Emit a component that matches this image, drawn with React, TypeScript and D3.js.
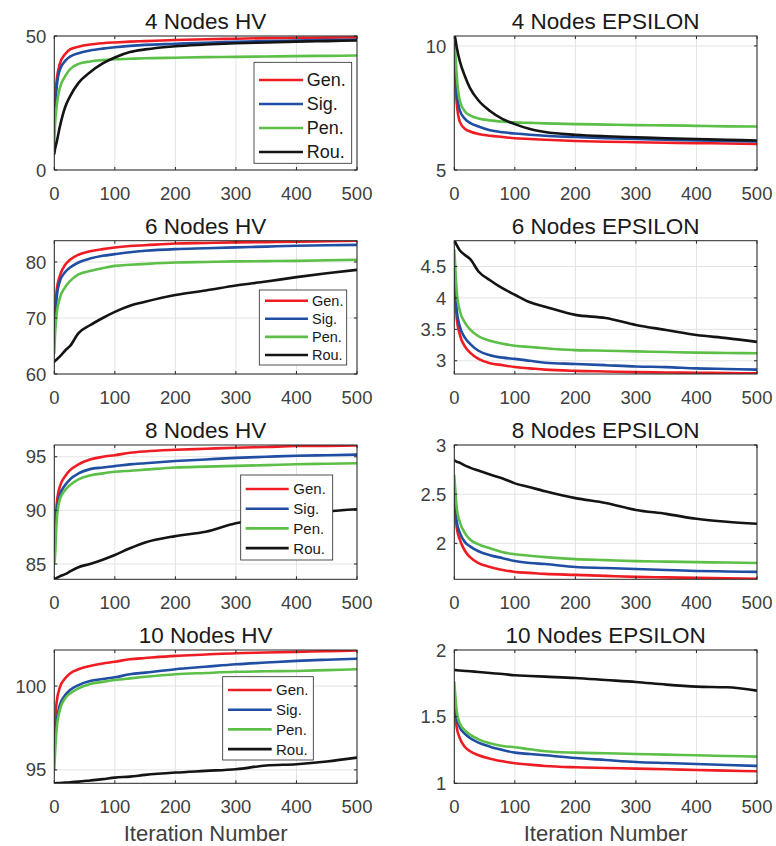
import React from "react";
import * as d3 from "d3";

// ---------- DATA ----------
const ITERATIONS = [0, 1, 4, 9, 18, 26, 40, 59, 80, 100, 125, 150, 200, 250, 300, 350, 400, 450, 500];
const SERIES_NAMES = ["Gen.", "Sig.", "Pen.", "Rou."];
const X_TICKS = [0, 100, 200, 300, 400, 500];

// 4 Nodes HV
const HV4_GEN = [16, 25, 33.6, 39.5, 43.3, 45, 46, 46.8, 47.3, 47.6, 47.9, 48.1, 48.5, 48.8, 49, 49.2, 49.3, 49.4, 49.5];
const HV4_SIG = [14, 21, 31, 37.3, 40.7, 42.3, 43.6, 44.6, 45.3, 45.8, 46.3, 46.7, 47.1, 47.5, 47.8, 48.1, 48.3, 48.5, 48.6];
const HV4_PEN = [10, 16, 24, 30.5, 35, 37.6, 39.6, 40.5, 41, 41.3, 41.5, 41.7, 41.9, 42.1, 42.2, 42.35, 42.5, 42.6, 42.7];
const HV4_ROU = [6, 7.5, 10.5, 16, 23.5, 27.5, 32.5, 36.5, 39.8, 42, 44, 45, 46.2, 46.8, 47.3, 47.6, 47.9, 48.1, 48.3];

// 4 Nodes EPSILON
const EP4_GEN = [9.2, 8.9, 7.7, 6.95, 6.65, 6.55, 6.45, 6.38, 6.33, 6.28, 6.25, 6.22, 6.17, 6.14, 6.12, 6.1, 6.08, 6.07, 6.05];
const EP4_SIG = [9.6, 9.4, 8.2, 7.4, 7.05, 6.9, 6.75, 6.6, 6.52, 6.47, 6.42, 6.38, 6.33, 6.28, 6.25, 6.22, 6.19, 6.17, 6.15];
const EP4_PEN = [10.1, 9.97, 8.8, 7.8, 7.35, 7.2, 7.08, 7.0, 6.95, 6.92, 6.9, 6.88, 6.85, 6.83, 6.81, 6.8, 6.78, 6.76, 6.75];
const EP4_ROU = [10.4, 10.37, 9.95, 9.4, 8.75, 8.3, 7.8, 7.38, 7.05, 6.85, 6.65, 6.53, 6.42, 6.36, 6.32, 6.28, 6.25, 6.22, 6.19];

// 6 Nodes HV
const HV6_GEN = [66, 70, 75, 77.5, 79.5, 80.4, 81.3, 81.9, 82.3, 82.6, 82.85, 83, 83.3, 83.4, 83.5, 83.55, 83.6, 83.7, 83.8];
const HV6_SIG = [66, 69, 73.8, 76.5, 78.2, 79, 79.9, 80.6, 81.1, 81.4, 81.75, 82, 82.3, 82.45, 82.6, 82.75, 82.9, 83, 83.05];
const HV6_PEN = [63.7, 66.5, 70.8, 73.5, 75.5, 76.6, 77.8, 78.4, 78.9, 79.3, 79.5, 79.65, 79.9, 80.0, 80.1, 80.15, 80.2, 80.3, 80.4];
const HV6_ROU = [62.2, 62.3, 62.6, 63.1, 64.2, 65, 67.3, 68.7, 70.0, 71.1, 72.2, 72.9, 74.1, 74.9, 75.8, 76.5, 77.3, 78, 78.6];

// 6 Nodes EPSILON
const EP6_GEN = [4.5, 4.2, 3.68, 3.42, 3.22, 3.13, 3.03, 2.96, 2.93, 2.9, 2.88, 2.86, 2.84, 2.83, 2.82, 2.815, 2.81, 2.805, 2.8];
const EP6_SIG = [4.45, 4.2, 3.8, 3.55, 3.36, 3.27, 3.16, 3.09, 3.05, 3.03, 3.0, 2.97, 2.95, 2.93, 2.91, 2.9, 2.88, 2.87, 2.86];
const EP6_PEN = [4.76, 4.6, 4.1, 3.8, 3.6, 3.5, 3.39, 3.32, 3.27, 3.24, 3.22, 3.2, 3.17, 3.16, 3.15, 3.14, 3.13, 3.125, 3.12];
const EP6_ROU = [4.92, 4.9, 4.84, 4.76, 4.68, 4.62, 4.42, 4.28, 4.15, 4.05, 3.93, 3.86, 3.73, 3.68, 3.57, 3.49, 3.41, 3.36, 3.3];

// 8 Nodes HV
const HV8_GEN = [86.3, 87.2, 90.6, 92.2, 93.2, 93.75, 94.3, 94.75, 95.0, 95.15, 95.37, 95.5, 95.65, 95.75, 95.85, 95.92, 96.0, 96.02, 96.05];
const HV8_SIG = [86.3, 87.2, 90.0, 91.4, 92.36, 92.9, 93.45, 93.85, 94.0, 94.13, 94.29, 94.4, 94.6, 94.75, 94.9, 95.0, 95.1, 95.15, 95.2];
const HV8_PEN = [85.05, 85.5, 89.1, 91.0, 91.9, 92.36, 92.9, 93.26, 93.45, 93.6, 93.7, 93.8, 94.0, 94.08, 94.15, 94.22, 94.3, 94.35, 94.4];
const HV8_ROU = [83.57, 83.6, 83.7, 83.85, 84.05, 84.3, 84.7, 85.0, 85.4, 85.84, 86.46, 87.0, 87.6, 88.0, 88.8, 89.2, 89.6, 89.9, 90.1];

// 8 Nodes EPSILON
const EP8_GEN = [2.54, 2.4, 2.16, 2.04, 1.92, 1.86, 1.8, 1.76, 1.73, 1.71, 1.7, 1.69, 1.68, 1.67, 1.66, 1.655, 1.65, 1.645, 1.64];
const EP8_SIG = [2.57, 2.45, 2.22, 2.11, 2.01, 1.97, 1.92, 1.88, 1.85, 1.82, 1.8, 1.79, 1.76, 1.75, 1.74, 1.73, 1.72, 1.715, 1.71];
const EP8_PEN = [2.69, 2.6, 2.36, 2.22, 2.1, 2.04, 1.99, 1.95, 1.91, 1.89, 1.875, 1.86, 1.84, 1.83, 1.82, 1.815, 1.81, 1.805, 1.8];
const EP8_ROU = [2.845, 2.84, 2.83, 2.82, 2.79, 2.77, 2.74, 2.7, 2.66, 2.61, 2.57, 2.53, 2.46, 2.41, 2.34, 2.3, 2.25, 2.22, 2.2];

// 10 Nodes HV
const HV10_GEN = [96.2, 97.5, 99.07, 99.9, 100.46, 100.75, 101.0, 101.2, 101.35, 101.45, 101.6, 101.67, 101.8, 101.88, 101.96, 102.0, 102.04, 102.08, 102.12];
const HV10_SIG = [96, 96.7, 97.9, 98.85, 99.46, 99.76, 100.06, 100.3, 100.42, 100.52, 100.7, 100.8, 101.0, 101.15, 101.3, 101.4, 101.5, 101.57, 101.63];
const HV10_PEN = [95, 95.8, 97.5, 98.55, 99.27, 99.56, 99.86, 100.12, 100.25, 100.36, 100.46, 100.55, 100.7, 100.78, 100.85, 100.88, 100.9, 100.95, 101.0];
const HV10_ROU = [94.2, 94.2, 94.21, 94.22, 94.24, 94.26, 94.3, 94.37, 94.45, 94.54, 94.6, 94.7, 94.84, 94.94, 95.04, 95.26, 95.34, 95.5, 95.73];

// 10 Nodes EPSILON
const EP10_GEN = [1.65, 1.55, 1.42, 1.34, 1.27, 1.24, 1.21, 1.185, 1.165, 1.15, 1.14, 1.13, 1.12, 1.115, 1.11, 1.105, 1.1, 1.095, 1.09];
const EP10_SIG = [1.675, 1.6, 1.49, 1.42, 1.37, 1.34, 1.305, 1.275, 1.25, 1.23, 1.22, 1.21, 1.19, 1.175, 1.16, 1.152, 1.145, 1.137, 1.13];
const EP10_PEN = [1.76, 1.7, 1.54, 1.45, 1.395, 1.365, 1.33, 1.3, 1.28, 1.27, 1.255, 1.24, 1.23, 1.225, 1.22, 1.215, 1.21, 1.205, 1.2];
const EP10_ROU = [1.85, 1.85, 1.848, 1.846, 1.843, 1.84, 1.835, 1.827, 1.82, 1.81, 1.805, 1.8, 1.79, 1.775, 1.76, 1.74, 1.725, 1.72, 1.695];

const TITLES = [
  "4 Nodes HV", "4 Nodes EPSILON",
  "6 Nodes HV", "6 Nodes EPSILON",
  "8 Nodes HV", "8 Nodes EPSILON",
  "10 Nodes HV", "10 Nodes EPSILON",
];
const Y_TICKS = [
  [0, 50], [5, 10],
  [60, 70, 80], [3, 3.5, 4, 4.5],
  [85, 90, 95], [2, 2.5, 3],
  [95, 100], [1, 1.5, 2],
];
const Y_DOMAINS = [
  [0, 50], [5, 10.4],
  [60, 83.8], [2.79, 4.91],
  [83.57, 96.1], [1.635, 3],
  [94.2, 102.15], [1, 2],
];
const PANEL_SERIES = [
  [HV4_GEN, HV4_SIG, HV4_PEN, HV4_ROU],
  [EP4_GEN, EP4_SIG, EP4_PEN, EP4_ROU],
  [HV6_GEN, HV6_SIG, HV6_PEN, HV6_ROU],
  [EP6_GEN, EP6_SIG, EP6_PEN, EP6_ROU],
  [HV8_GEN, HV8_SIG, HV8_PEN, HV8_ROU],
  [EP8_GEN, EP8_SIG, EP8_PEN, EP8_ROU],
  [HV10_GEN, HV10_SIG, HV10_PEN, HV10_ROU],
  [EP10_GEN, EP10_SIG, EP10_PEN, EP10_ROU],
];

// ---------- STYLE / LAYOUT ----------
const COLORS = ["#ef1c24", "#1f4ea3", "#5cbf47", "#141414"];
const FONT = "'Liberation Sans', Arial, Helvetica, sans-serif";
const COLS = [[54.3, 357], [454.3, 757]];
const ROWS = [[36, 170], [240.7, 374], [445, 579.3], [650, 783.3]];
// legend boxes for the HV panels: [x, y, w, h, fontSize, firstRowY, rowStep, lineX0, lineX1, textX]
const LEGENDS = [
  [254, 62.3, 97.7, 101, 18, 80, 24, 259, 303, 306.7],
  [259.3, 290, 87.4, 75, 14.5, 300.7, 18.1, 265, 308, 312],
  [240.7, 475, 92, 85, 15, 489, 19.7, 245.7, 288.7, 293.3],
  [222.7, 676.7, 90.6, 83.3, 15, 690, 19.7, 228, 271.7, 276],
];

function Panel({ idx }: { idx: number }) {
  const col = idx % 2;
  const row = Math.floor(idx / 2);
  const [x0, x1] = COLS[col];
  const [y0, y1] = ROWS[row];
  const x = d3.scaleLinear().domain([0, 500]).range([x0, x1]);
  const y = d3.scaleLinear().domain(Y_DOMAINS[idx]).range([y1, y0]);
  const line = d3
    .line<number>()
    .x((_, i) => x(ITERATIONS[i]))
    .y((v) => y(v))
    .curve(d3.curveMonotoneX);
  const clipId = `clip-${idx}`;
  const yt = Y_TICKS[idx];
  const tl = 3;
  const fmt = (v: number) => (Number.isInteger(v) ? String(v) : v.toFixed(1));
  return (
    <g>
      <defs>
        <clipPath id={clipId}>
          <rect x={x0} y={y0} width={x1 - x0} height={y1 - y0} />
        </clipPath>
      </defs>
      <rect x={x0} y={y0} width={x1 - x0} height={y1 - y0} fill="#fff" />
      {X_TICKS.map((t) => (
        <line key={"gx" + t} x1={x(t)} x2={x(t)} y1={y0} y2={y1} stroke="#e3e3e3" strokeWidth={1} />
      ))}
      {yt.map((t) => (
        <line key={"gy" + t} x1={x0} x2={x1} y1={y(t)} y2={y(t)} stroke="#e3e3e3" strokeWidth={1} />
      ))}
      <g clipPath={`url(#${clipId})`}>
        {PANEL_SERIES[idx].map((s, i) => (
          <path key={i} d={line(s) || ""} fill="none" stroke={COLORS[i]} strokeWidth={2.6} strokeLinejoin="round" strokeLinecap="round" />
        ))}
      </g>
      <rect x={x0} y={y0} width={x1 - x0} height={y1 - y0} fill="none" stroke="#262626" strokeWidth={1} />
      {X_TICKS.map((t) => (
        <g key={"tx" + t}>
          <line x1={x(t)} x2={x(t)} y1={y1} y2={y1 - tl} stroke="#262626" />
          <line x1={x(t)} x2={x(t)} y1={y0} y2={y0 + tl} stroke="#262626" />
          <text x={x(t)} y={y1 + 29.5} textAnchor="middle" fontSize={18.5} fill="#404040" fontFamily={FONT}>
            {t}
          </text>
        </g>
      ))}
      {yt.map((t) => (
        <g key={"ty" + t}>
          <line x1={x0} x2={x0 + tl} y1={y(t)} y2={y(t)} stroke="#262626" />
          <line x1={x1} x2={x1 - tl} y1={y(t)} y2={y(t)} stroke="#262626" />
          <text x={x0 - 8} y={y(t) + 6.6} textAnchor="end" fontSize={18.5} fill="#404040" fontFamily={FONT}>
            {fmt(t)}
          </text>
        </g>
      ))}
      <text x={(x0 + x1) / 2} y={y0 - 7} textAnchor="middle" fontSize={22.5} fill="#1a1a1a" fontFamily={FONT}>
        {TITLES[idx]}
      </text>
      {row === 3 && (
        <text x={(x0 + x1) / 2} y={841} textAnchor="middle" fontSize={22} fill="#404040" fontFamily={FONT}>
          Iteration Number
        </text>
      )}
      {col === 0 && <Legend row={row} />}
    </g>
  );
}

function Legend({ row }: { row: number }) {
  const [bx, by, bw, bh, fs, fy, step, lx0, lx1, tx] = LEGENDS[row];
  return (
    <g>
      <rect x={bx} y={by} width={bw} height={bh} fill="#fff" stroke="#262626" strokeWidth={0.8} />
      {SERIES_NAMES.map((n, i) => (
        <g key={n}>
          <line x1={lx0} x2={lx1} y1={fy + i * step} y2={fy + i * step} stroke={COLORS[i]} strokeWidth={2.6} />
          <text x={tx} y={fy + i * step + fs * 0.36} fontSize={fs} fill="#1a1a1a" fontFamily={FONT}>
            {n}
          </text>
        </g>
      ))}
    </g>
  );
}

export default function App() {
  return (
    <svg
      width={776}
      height={846}
      viewBox="0 0 776 846"
      style={{ position: "absolute", left: 0, top: 0, background: "#fff" }}
    >
      <rect width={776} height={846} fill="#fff" />
      {TITLES.map((_, i) => (
        <Panel key={i} idx={i} />
      ))}
    </svg>
  );
}
